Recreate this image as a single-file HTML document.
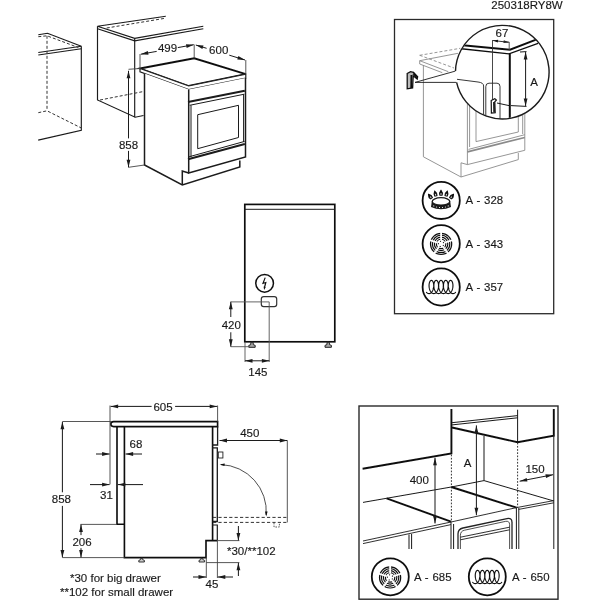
<!DOCTYPE html>
<html><head><meta charset="utf-8"><title>Installation dimensions</title>
<style>html,body{margin:0;padding:0;background:#fff}svg{display:block;font-family:"Liberation Sans",sans-serif}</style>
</head><body>
<svg width="600" height="600" viewBox="0 0 600 600">
<defs><filter id="soft" x="0" y="0" width="600" height="600" filterUnits="userSpaceOnUse"><feGaussianBlur stdDeviation="0.5"/></filter></defs>
<rect width="600" height="600" fill="#fff"/>
<g filter="url(#soft)">
<path d="M38.3,34.7 L47.5,33.3 L81.3,46.3" stroke="#1a1a1a" stroke-width="1.15" fill="none" />
<path d="M38.3,52.5 L81.3,46.3" stroke="#1a1a1a" stroke-width="1.15" fill="none" />
<path d="M38.3,55.0 L81.3,48.7" stroke="#1a1a1a" stroke-width="1.15" fill="none" />
<path d="M81.3,46.3 L81.3,130.4 L38.2,140.1" stroke="#1a1a1a" stroke-width="1.15" fill="none" />
<path d="M38.3,36.7 L47.0,35.8 L78.3,47.5" stroke="#333" stroke-width="1.0" fill="none" stroke-dasharray="3 2" />
<path d="M47.0,35.8 L47.0,110.8" stroke="#333" stroke-width="1.0" fill="none" stroke-dasharray="3 2" />
<path d="M38.3,112.7 L47.0,110.8 L81.3,128.0" stroke="#333" stroke-width="1.0" fill="none" stroke-dasharray="3 2" />
<path d="M165.8,16.3 L97.5,26.3 L134.7,38.3 L203.3,26.3" stroke="#1a1a1a" stroke-width="1.15" fill="none" />
<path d="M97.5,28.7 L134.7,40.8 L203.3,28.7" stroke="#1a1a1a" stroke-width="1.15" fill="none" />
<path d="M97.5,26.3 L97.5,100.0 L135.2,117.2 L143.5,115.5" stroke="#1a1a1a" stroke-width="1.15" fill="none" />
<path d="M134.7,38.3 L134.7,117.2" stroke="#1a1a1a" stroke-width="1.15" fill="none" />
<path d="M106.7,28.0 L165.0,18.3" stroke="#333" stroke-width="1.0" fill="none" stroke-dasharray="3 2" />
<path d="M100.0,100.0 L143.5,91.5" stroke="#333" stroke-width="1.0" fill="none" stroke-dasharray="3 2" />
<path d="M140,68.5 L194.2,58.3 L245.8,74.2 L188.7,86 Z" fill="#fff" stroke="#111" stroke-width="1.8"/>
<path d="M140,68.5 L188.7,86 L245.8,74.2 L245.8,78 L188.7,89.6 L140,71.8Z" fill="#fff" stroke="#222" stroke-width="1.2"/>
<path d="M144.5,73.5 L188.7,89.6 L245.5,78 L245.5,157 L239.8,160.5 L239.8,167 L182.3,185 L144.5,165Z" fill="#fff" stroke="none"/>
<path d="M144.5,73.5 L144.5,165.0 L182.3,185.0 L239.8,167.0 L239.8,160.5" stroke="#1a1a1a" stroke-width="1.5" fill="none" />
<path d="M182.3,185.0 L182.3,171.0 L188.7,173.0" stroke="#1a1a1a" stroke-width="1.5" fill="none" />
<path d="M188.7,89.6 L188.7,173.0 L245.5,157.0 L245.5,78.0" stroke="#1a1a1a" stroke-width="1.5" fill="none" />
<path d="M188.0,102.0 L244.8,90.7" stroke="#1a1a1a" stroke-width="2" fill="none" />
<path d="M189.7,105.3 L244.3,94.2" stroke="#1a1a1a" stroke-width="1.0" fill="none" />
<path d="M191.0,105.3 L191.0,157.0" stroke="#1a1a1a" stroke-width="1.0" fill="none" />
<path d="M243.6,94.2 L243.6,142.0" stroke="#1a1a1a" stroke-width="1.0" fill="none" />
<path d="M197.7,114.7 L238.5,105.3 L238.5,137.5 L197.7,148.7 L197.7,114.7" stroke="#1a1a1a" stroke-width="1" fill="none" />
<path d="M189.0,156.8 L244.6,141.4" stroke="#1a1a1a" stroke-width="1.0" fill="none" />
<path d="M188.0,159.3 L244.8,144.0" stroke="#1a1a1a" stroke-width="2" fill="none" />
<path d="M140.0,54.0 L140.0,68.5" stroke="#444" stroke-width="0.9" fill="none" />
<path d="M194.2,44.5 L194.2,58.3" stroke="#444" stroke-width="0.9" fill="none" />
<path d="M245.8,60.0 L245.8,74.2" stroke="#444" stroke-width="0.9" fill="none" />
<path d="M140.8,54.2 L156.7,51.4" stroke="#1a1a1a" stroke-width="1.0" fill="none" />
<path d="M177.8,47.6 L193.7,44.7" stroke="#1a1a1a" stroke-width="1.0" fill="none" />
<path d="M140.8,54.2 L147.8,51.0 L148.5,54.7Z" fill="#1a1a1a"/>
<path d="M193.7,44.7 L186.7,47.9 L186.0,44.2Z" fill="#1a1a1a"/>
<text x="167.5" y="51.5" font-size="11.5" text-anchor="middle" fill="#1a1a1a" stroke="#1a1a1a" stroke-width="0.15">499</text>
<path d="M195.8,45.0 L206.6,48.3" stroke="#1a1a1a" stroke-width="1.0" fill="none" />
<path d="M229.3,55.2 L245.0,60.0" stroke="#1a1a1a" stroke-width="1.0" fill="none" />
<path d="M195.8,45.0 L203.5,45.4 L202.4,49.0Z" fill="#1a1a1a"/>
<path d="M245.0,60.0 L237.3,59.6 L238.4,56.0Z" fill="#1a1a1a"/>
<text x="218.7" y="53.7" font-size="11.5" text-anchor="middle" fill="#1a1a1a" stroke="#1a1a1a" stroke-width="0.15">600</text>
<path d="M128.5,69.3 L140.0,68.5" stroke="#444" stroke-width="0.9" fill="none" />
<path d="M128.5,167.3 L144.5,165.0" stroke="#444" stroke-width="0.9" fill="none" />
<path d="M128.5,70.8 L128.5,138.4" stroke="#1a1a1a" stroke-width="1.0" fill="none" />
<path d="M128.5,150.9 L128.5,167.3" stroke="#1a1a1a" stroke-width="1.0" fill="none" />
<path d="M128.5,70.8 L130.4,78.3 L126.6,78.3Z" fill="#1a1a1a"/>
<path d="M128.5,167.3 L126.6,159.8 L130.4,159.8Z" fill="#1a1a1a"/>
<text x="128.5" y="148.5" font-size="11.5" text-anchor="middle" fill="#1a1a1a" stroke="#1a1a1a" stroke-width="0.15">858</text>
<text x="527.0" y="8.6" font-size="11.5" text-anchor="middle" fill="#1a1a1a" stroke="#1a1a1a" stroke-width="0.15">250318RY8W</text>
<rect x="394.5" y="19.5" width="159.2" height="294.2" fill="none" stroke="#2a2a2a" stroke-width="1.3"/>
<path d="M419.7,60.7 L458.0,53.3" stroke="#8a8a8a" stroke-width="0.9" fill="none" />
<path d="M419.7,55.3 L460.3,48.3" stroke="#8a8a8a" stroke-width="0.9" fill="none" stroke-dasharray="3 2" />
<path d="M419.7,55.3 L454.0,68.0" stroke="#8a8a8a" stroke-width="0.9" fill="none" stroke-dasharray="3 2" />
<path d="M419.7,60.7 L448.3,71.7" stroke="#8a8a8a" stroke-width="0.9" fill="none" />
<path d="M419.7,60.7 L419.7,64.0 L442.3,72.7" stroke="#8a8a8a" stroke-width="0.9" fill="none" />
<path d="M423.4,65.0 L423.4,156.8 L461.0,177.0 L518.3,159.6 L518.3,153.0" stroke="#8a8a8a" stroke-width="0.9" fill="none" />
<path d="M461.0,177.0 L461.0,162.8 L467.4,164.6" stroke="#8a8a8a" stroke-width="0.9" fill="none" />
<path d="M467.4,100.0 L467.4,164.6 L524.8,150.3 L524.8,100.0" stroke="#8a8a8a" stroke-width="0.9" fill="none" />
<path d="M469.6,100.0 L469.6,147.0" stroke="#8a8a8a" stroke-width="0.9" fill="none" />
<path d="M476.0,100.0 L476.0,141.6 L518.3,132.0 L518.3,100.0" stroke="#8a8a8a" stroke-width="0.9" fill="none" />
<path d="M522.7,100.0 L522.7,134.0" stroke="#8a8a8a" stroke-width="0.9" fill="none" />
<path d="M468.5,149.4 L524.8,134.7" stroke="#8a8a8a" stroke-width="0.9" fill="none" />
<path d="M467.4,151.8 L524.8,137.5" stroke="#8a8a8a" stroke-width="1.8" fill="none" />
<path d="M407.2,73.5 L410.5,71.6 L413.5,72.4 L417.6,76.6 L417.2,79 L413.2,75.8 L412.6,88 L407.2,88.8Z" fill="#bbb" stroke="#111" stroke-width="1.3"/>
<path d="M411.4,75.0 L411.2,88.0" stroke="#111" stroke-width="1.8" fill="none" />
<path d="M413.4,73.4 L417.0,77.6" stroke="#111" stroke-width="1.8" fill="none" />
<path d="M455.7,71.0 L415.0,82.4 L456.3,82.4" stroke="#1a1a1a" stroke-width="0.9" fill="none" />
<circle cx="502.3" cy="72.2" r="46.8" fill="#fff" stroke="none"/>
<path d="M455.5,71.0 A46.8,46.8 0 1 1 456.6,82.3" fill="none" stroke="#1a1a1a" stroke-width="1.4"/>
<clipPath id="cc"><circle cx="502.3" cy="72.2" r="46.4"/></clipPath><g clip-path="url(#cc)">
<path d="M460.0,44.9 L510.0,49.7 L538.0,38.9" stroke="#111" stroke-width="2.0" fill="none" />
<path d="M459.0,48.5 L509.0,53.8 L538.0,43.3" stroke="#111" stroke-width="1.3" fill="none" />
<path d="M509.8,53.0 L509.8,120.0" stroke="#111" stroke-width="2.0" fill="none" />
<path d="M492.5,40.0 L492.5,100.0" stroke="#333" stroke-width="0.9" fill="none" />
<path d="M509.2,42.0 L509.2,50.0" stroke="#444" stroke-width="0.9" fill="none" />
<path d="M520.0,52.0 L526.5,51.6" stroke="#1a1a1a" stroke-width="1.0" fill="none" />
<path d="M511.0,105.6 L526.5,106.4" stroke="#1a1a1a" stroke-width="1.0" fill="none" />
<path d="M525.6,52.0 L525.6,106.0" stroke="#1a1a1a" stroke-width="1.0" fill="none" />
<path d="M525.6,52.0 L527.5,59.5 L523.7,59.5Z" fill="#1a1a1a"/>
<path d="M525.6,106.0 L523.7,98.5 L527.5,98.5Z" fill="#1a1a1a"/>
<path d="M457,79.3 L478,82 Q483.6,82.6 483.6,86 L483.6,125" fill="none" stroke="#222" stroke-width="0.9"/>
<path d="M485.8,125 L485.8,86.5 Q485.8,83.2 489,83.2 L497,83.2 Q500,83.2 500,86.5 L500,125" fill="none" stroke="#222" stroke-width="0.9"/>
<path d="M497.0,103.0 L509.0,105.6" stroke="#1a1a1a" stroke-width="1.0" fill="none" />
<path d="M491.2,100.5 L494.8,98.6 L496.4,100 L494.8,101.8 L495.2,112.6 L491.4,113Z" fill="#fff" stroke="#111" stroke-width="1.2"/>
<path d="M493.9,102.0 L494.1,112.0" stroke="#111" stroke-width="1.6" fill="none" />
</g>
<path d="M493.0,40.5 L498.1,39.7 L497.8,42.5Z" fill="#111"/>
<path d="M508.6,42.3 L503.5,43.1 L503.8,40.3Z" fill="#111"/>
<path d="M493.0,40.5 L508.6,42.3" stroke="#1a1a1a" stroke-width="0.9" fill="none" />
<path d="M504.0,42.1 L509.2,42.1" stroke="#444" stroke-width="0.9" fill="none" />
<text x="502.0" y="37.2" font-size="11.5" text-anchor="middle" fill="#1a1a1a" stroke="#1a1a1a" stroke-width="0.15">67</text>
<text x="534.0" y="85.6" font-size="11.5" text-anchor="middle" fill="#1a1a1a" stroke="#1a1a1a" stroke-width="0.15">A</text>
<circle cx="441.2" cy="200.4" r="18.6" fill="#fff" stroke="#111" stroke-width="1.8"/>
<text x="465.6" y="204.3" font-size="11.4" text-anchor="start" fill="#1a1a1a" stroke="#1a1a1a" stroke-width="0.15" word-spacing="0.7">A - 328</text>
<circle cx="441.2" cy="243.7" r="18.6" fill="#fff" stroke="#111" stroke-width="1.8"/>
<text x="465.6" y="247.6" font-size="11.4" text-anchor="start" fill="#1a1a1a" stroke="#1a1a1a" stroke-width="0.15" word-spacing="0.7">A - 343</text>
<circle cx="441.2" cy="287" r="18.6" fill="#fff" stroke="#111" stroke-width="1.8"/>
<text x="465.6" y="290.9" font-size="11.4" text-anchor="start" fill="#1a1a1a" stroke="#1a1a1a" stroke-width="0.15" word-spacing="0.7">A - 357</text>
<g transform="translate(441,200.3) scale(1.0)"><path d="M-9.2,1.2 L-10,6.6 Q0,11.5 10,6.6 L9.2,1.2 Z" fill="#1a1a1a"/><ellipse cx="0" cy="1.1" rx="8.8" ry="3.7" fill="#fff" stroke="#1a1a1a" stroke-width="1.3"/><circle cx="-7.2" cy="5.6" r="0.55" fill="#fff"/><circle cx="-4.4" cy="6.7" r="0.55" fill="#fff"/><circle cx="-1.5" cy="7.2" r="0.55" fill="#fff"/><circle cx="1.5" cy="7.2" r="0.55" fill="#fff"/><circle cx="4.4" cy="6.7" r="0.55" fill="#fff"/><circle cx="7.2" cy="5.6" r="0.55" fill="#fff"/><path transform="translate(-11,-4) rotate(-38)" d="M0,-2.4 C1.6,-0.4 1.7,1 1.1,2.4 L-1.1,2.4 C-1.7,1 -1.6,-0.4 0,-2.4Z" fill="#111" stroke="#111" stroke-width="1.1"/><ellipse transform="translate(-11,-4) rotate(-38)" cx="0" cy="1.2" rx="0.55" ry="1" fill="#ddd"/><path transform="translate(-5.7,-6.8) rotate(-15)" d="M0,-2.4 C1.6,-0.4 1.7,1 1.1,2.4 L-1.1,2.4 C-1.7,1 -1.6,-0.4 0,-2.4Z" fill="#111" stroke="#111" stroke-width="1.1"/><ellipse transform="translate(-5.7,-6.8) rotate(-15)" cx="0" cy="1.2" rx="0.55" ry="1" fill="#ddd"/><path transform="translate(0,-7.6) rotate(0)" d="M0,-2.4 C1.6,-0.4 1.7,1 1.1,2.4 L-1.1,2.4 C-1.7,1 -1.6,-0.4 0,-2.4Z" fill="#111" stroke="#111" stroke-width="1.1"/><ellipse transform="translate(0,-7.6) rotate(0)" cx="0" cy="1.2" rx="0.55" ry="1" fill="#ddd"/><path transform="translate(5.7,-6.8) rotate(15)" d="M0,-2.4 C1.6,-0.4 1.7,1 1.1,2.4 L-1.1,2.4 C-1.7,1 -1.6,-0.4 0,-2.4Z" fill="#111" stroke="#111" stroke-width="1.1"/><ellipse transform="translate(5.7,-6.8) rotate(15)" cx="0" cy="1.2" rx="0.55" ry="1" fill="#ddd"/><path transform="translate(11,-4) rotate(38)" d="M0,-2.4 C1.6,-0.4 1.7,1 1.1,2.4 L-1.1,2.4 C-1.7,1 -1.6,-0.4 0,-2.4Z" fill="#111" stroke="#111" stroke-width="1.1"/><ellipse transform="translate(11,-4) rotate(38)" cx="0" cy="1.2" rx="0.55" ry="1" fill="#ddd"/></g>
<g transform="translate(441.1,243.9) scale(1.0)"><circle r="4.7" fill="none" stroke="#111" stroke-width="1.2"/><circle r="6.7" fill="none" stroke="#111" stroke-width="1.2"/><circle r="8.7" fill="none" stroke="#111" stroke-width="1.2"/><circle r="10.6" fill="none" stroke="#111" stroke-width="1.2"/><circle r="2.7" fill="none" stroke="#1a1a1a" stroke-width="1.1" stroke-dasharray="1.1 2.29" stroke-dashoffset="-1.1"/><line x1="0.00" y1="-3.80" x2="0.00" y2="-12.00" stroke="#fff" stroke-width="1.8"/><line x1="3.61" y1="-1.17" x2="11.41" y2="-3.71" stroke="#fff" stroke-width="1.8"/><line x1="2.23" y1="3.07" x2="7.05" y2="9.71" stroke="#fff" stroke-width="1.8"/><line x1="-2.23" y1="3.07" x2="-7.05" y2="9.71" stroke="#fff" stroke-width="1.8"/><line x1="-3.61" y1="-1.17" x2="-11.41" y2="-3.71" stroke="#fff" stroke-width="1.8"/></g>
<g transform="translate(441,287) scale(1.0)"><path d="M-14.50,5.37 L-14.20,5.67 L-13.89,5.92 L-13.57,6.14 L-13.24,6.32 L-12.90,6.45 L-12.56,6.54 L-12.22,6.59 L-11.88,6.60 L-11.53,6.56 L-11.19,6.47 L-10.86,6.35 L-10.53,6.18 L-10.21,5.97 L-9.89,5.72 L-9.59,5.43 L-9.31,5.11 L-9.03,4.75 L-8.78,4.36 L-8.54,3.94 L-8.32,3.49 L-8.11,3.03 L-7.93,2.54 L-7.77,2.03 L-7.63,1.51 L-7.52,0.98 L-7.43,0.45 L-7.35,-0.09 L-7.31,-0.63 L-7.28,-1.16 L-7.28,-1.69 L-7.30,-2.20 L-7.34,-2.70 L-7.41,-3.18 L-7.49,-3.64 L-7.59,-4.08 L-7.71,-4.49 L-7.85,-4.87 L-8.00,-5.22 L-8.17,-5.53 L-8.35,-5.80 L-8.54,-6.04 L-8.74,-6.24 L-8.95,-6.39 L-9.16,-6.51 L-9.38,-6.57 L-9.60,-6.60 L-9.82,-6.58 L-10.03,-6.52 L-10.25,-6.41 L-10.45,-6.26 L-10.66,-6.07 L-10.85,-5.84 L-11.03,-5.57 L-11.20,-5.27 L-11.35,-4.92 L-11.49,-4.55 L-11.62,-4.14 L-11.72,-3.71 L-11.81,-3.25 L-11.87,-2.78 L-11.92,-2.28 L-11.94,-1.77 L-11.94,-1.24 L-11.92,-0.71 L-11.88,-0.17 L-11.81,0.37 L-11.72,0.90 L-11.61,1.43 L-11.48,1.96 L-11.32,2.46 L-11.14,2.95 L-10.94,3.43 L-10.72,3.87 L-10.49,4.30 L-10.23,4.69 L-9.96,5.05 L-9.68,5.38 L-9.38,5.68 L-9.07,5.93 L-8.75,6.15 L-8.42,6.32 L-8.08,6.46 L-7.74,6.55 L-7.40,6.59 L-7.06,6.60 L-6.71,6.55 L-6.37,6.47 L-6.04,6.34 L-5.71,6.17 L-5.39,5.96 L-5.08,5.71 L-4.78,5.42 L-4.49,5.09 L-4.22,4.73 L-3.96,4.34 L-3.72,3.92 L-3.50,3.48 L-3.30,3.01 L-3.12,2.52 L-2.96,2.01 L-2.82,1.49 L-2.71,0.96 L-2.62,0.43 L-2.55,-0.11 L-2.50,-0.65 L-2.48,-1.18 L-2.48,-1.71 L-2.50,-2.22 L-2.54,-2.72 L-2.60,-3.20 L-2.69,-3.66 L-2.79,-4.10 L-2.91,-4.51 L-3.05,-4.88 L-3.20,-5.23 L-3.37,-5.54 L-3.55,-5.81 L-3.74,-6.05 L-3.94,-6.24 L-4.15,-6.40 L-4.36,-6.51 L-4.58,-6.58 L-4.80,-6.60 L-5.02,-6.58 L-5.23,-6.52 L-5.45,-6.41 L-5.66,-6.26 L-5.86,-6.07 L-6.05,-5.83 L-6.23,-5.56 L-6.40,-5.25 L-6.55,-4.91 L-6.69,-4.53 L-6.81,-4.13 L-6.92,-3.69 L-7.00,-3.24 L-7.07,-2.76 L-7.11,-2.26 L-7.14,-1.75 L-7.14,-1.22 L-7.12,-0.69 L-7.07,-0.15 L-7.00,0.39 L-6.91,0.92 L-6.80,1.45 L-6.66,1.97 L-6.51,2.48 L-6.33,2.97 L-6.13,3.44 L-5.91,3.89 L-5.67,4.31 L-5.42,4.71 L-5.15,5.07 L-4.86,5.40 L-4.56,5.69 L-4.25,5.94 L-3.93,6.16 L-3.60,6.33 L-3.27,6.46 L-2.92,6.55 L-2.58,6.59 L-2.24,6.59 L-1.89,6.55 L-1.55,6.47 L-1.22,6.34 L-0.89,6.16 L-0.57,5.95 L-0.26,5.70 L0.04,5.41 L0.33,5.08 L0.60,4.72 L0.86,4.33 L1.09,3.91 L1.31,3.46 L1.51,2.99 L1.69,2.50 L1.85,1.99 L1.99,1.47 L2.10,0.94 L2.19,0.41 L2.26,-0.13 L2.31,-0.67 L2.33,-1.20 L2.33,-1.73 L2.31,-2.24 L2.26,-2.74 L2.20,-3.22 L2.12,-3.68 L2.01,-4.11 L1.89,-4.52 L1.75,-4.90 L1.60,-5.24 L1.43,-5.55 L1.25,-5.82 L1.06,-6.06 L0.86,-6.25 L0.65,-6.40 L0.44,-6.51 L0.22,-6.58 L0.00,-6.60 L-0.22,-6.58 L-0.44,-6.51 L-0.65,-6.40 L-0.86,-6.25 L-1.06,-6.06 L-1.25,-5.82 L-1.43,-5.55 L-1.60,-5.24 L-1.75,-4.90 L-1.89,-4.52 L-2.01,-4.11 L-2.12,-3.68 L-2.20,-3.22 L-2.26,-2.74 L-2.31,-2.24 L-2.33,-1.73 L-2.33,-1.20 L-2.31,-0.67 L-2.26,-0.13 L-2.19,0.41 L-2.10,0.94 L-1.99,1.47 L-1.85,1.99 L-1.69,2.50 L-1.51,2.99 L-1.31,3.46 L-1.09,3.91 L-0.86,4.33 L-0.60,4.72 L-0.33,5.08 L-0.04,5.41 L0.26,5.70 L0.57,5.95 L0.89,6.16 L1.22,6.34 L1.55,6.47 L1.89,6.55 L2.24,6.59 L2.58,6.59 L2.92,6.55 L3.27,6.46 L3.60,6.33 L3.93,6.16 L4.25,5.94 L4.56,5.69 L4.86,5.40 L5.15,5.07 L5.42,4.71 L5.67,4.31 L5.91,3.89 L6.13,3.44 L6.33,2.97 L6.51,2.48 L6.66,1.97 L6.80,1.45 L6.91,0.92 L7.00,0.39 L7.07,-0.15 L7.12,-0.69 L7.14,-1.22 L7.14,-1.75 L7.11,-2.26 L7.07,-2.76 L7.00,-3.24 L6.92,-3.69 L6.81,-4.13 L6.69,-4.53 L6.55,-4.91 L6.40,-5.25 L6.23,-5.56 L6.05,-5.83 L5.86,-6.07 L5.66,-6.26 L5.45,-6.41 L5.23,-6.52 L5.02,-6.58 L4.80,-6.60 L4.58,-6.58 L4.36,-6.51 L4.15,-6.40 L3.94,-6.24 L3.74,-6.05 L3.55,-5.81 L3.37,-5.54 L3.20,-5.23 L3.05,-4.88 L2.91,-4.51 L2.79,-4.10 L2.69,-3.66 L2.60,-3.20 L2.54,-2.72 L2.50,-2.22 L2.48,-1.71 L2.48,-1.18 L2.50,-0.65 L2.55,-0.11 L2.62,0.43 L2.71,0.96 L2.82,1.49 L2.96,2.01 L3.12,2.52 L3.30,3.01 L3.50,3.48 L3.72,3.92 L3.96,4.34 L4.22,4.73 L4.49,5.09 L4.78,5.42 L5.08,5.71 L5.39,5.96 L5.71,6.17 L6.04,6.34 L6.37,6.47 L6.71,6.55 L7.06,6.60 L7.40,6.59 L7.74,6.55 L8.08,6.46 L8.42,6.32 L8.75,6.15 L9.07,5.93 L9.38,5.68 L9.68,5.38 L9.96,5.05 L10.23,4.69 L10.49,4.30 L10.72,3.87 L10.94,3.43 L11.14,2.95 L11.32,2.46 L11.48,1.96 L11.61,1.43 L11.72,0.90 L11.81,0.37 L11.88,-0.17 L11.92,-0.71 L11.94,-1.24 L11.94,-1.77 L11.92,-2.28 L11.87,-2.78 L11.81,-3.25 L11.72,-3.71 L11.62,-4.14 L11.49,-4.55 L11.35,-4.92 L11.20,-5.27 L11.03,-5.57 L10.85,-5.84 L10.66,-6.07 L10.45,-6.26 L10.25,-6.41 L10.03,-6.52 L9.82,-6.58 L9.60,-6.60 L9.38,-6.57 L9.16,-6.51 L8.95,-6.39 L8.74,-6.24 L8.54,-6.04 L8.35,-5.80 L8.17,-5.53 L8.00,-5.22 L7.85,-4.87 L7.71,-4.49 L7.59,-4.08 L7.49,-3.64 L7.41,-3.18 L7.34,-2.70 L7.30,-2.20 L7.28,-1.69 L7.28,-1.16 L7.31,-0.63 L7.35,-0.09 L7.43,0.45 L7.52,0.98 L7.63,1.51 L7.77,2.03 L7.93,2.54 L8.11,3.03 L8.32,3.49 L8.54,3.94 L8.78,4.36 L9.03,4.75 L9.31,5.11 L9.59,5.43 L9.89,5.72 L10.21,5.97 L10.53,6.18 L10.86,6.35 L11.19,6.47 L11.53,6.56 L11.88,6.60 L12.22,6.59 L12.56,6.54 L12.90,6.45 L13.24,6.32 L13.57,6.14 L13.89,5.92 L14.20,5.67 L14.50,5.37" fill="none" stroke="#111" stroke-width="1.15" stroke-linejoin="round" stroke-linecap="round"/></g>
<rect x="244.8" y="204.4" width="90" height="137.4" fill="#fff" stroke="#111" stroke-width="1.7"/>
<path d="M244.8,209.3 L334.8,209.3" stroke="#1a1a1a" stroke-width="1.0" fill="none" />
<circle cx="264.6" cy="283.3" r="8.85" fill="none" stroke="#111" stroke-width="1.5"/>
<path d="M265.2,277.6 L263,283.3 L265.8,282.5 L264.5,287.5" fill="none" stroke="#111" stroke-width="1.2"/>
<path d="M264.1,290 L263.6,286.6 L265.7,287.2Z" fill="#111"/>
<rect x="261.3" y="296.6" width="15.4" height="10" rx="2.4" fill="none" stroke="#333" stroke-width="1.2"/>
<path d="M250.8,342.3 L253.2,342.3 L253.2,344.6 L255.2,345.4 L255.2,347.3 L248.8,347.3 L248.8,345.4 L250.8,344.6Z" fill="#aaa" stroke="#222" stroke-width="1"/>
<path d="M327.0,342.3 L329.4,342.3 L329.4,344.6 L331.4,345.4 L331.4,347.3 L325.0,347.3 L325.0,345.4 L327.0,344.6Z" fill="#aaa" stroke="#222" stroke-width="1"/>
<path d="M230.8,301.9 L269.2,301.9 L269.2,362.0" stroke="#555" stroke-width="0.9" fill="none" />
<path d="M230.8,346.7 L249.0,346.7" stroke="#555" stroke-width="0.9" fill="none" />
<path d="M245.0,342.0 L245.0,362.0" stroke="#555" stroke-width="0.9" fill="none" />
<path d="M230.8,301.7 L230.8,317.0" stroke="#1a1a1a" stroke-width="1.0" fill="none" />
<path d="M230.8,332.3 L230.8,346.7" stroke="#1a1a1a" stroke-width="1.0" fill="none" />
<path d="M230.8,301.7 L232.7,309.2 L228.9,309.2Z" fill="#1a1a1a"/>
<path d="M230.8,346.7 L228.9,339.2 L232.7,339.2Z" fill="#1a1a1a"/>
<text x="231.3" y="328.6" font-size="11.5" text-anchor="middle" fill="#1a1a1a" stroke="#1a1a1a" stroke-width="0.15">420</text>
<path d="M245.0,360.8 L269.4,360.8" stroke="#1a1a1a" stroke-width="1.0" fill="none" />
<path d="M245.0,360.8 L252.5,358.9 L252.5,362.7Z" fill="#1a1a1a"/>
<path d="M269.4,360.8 L261.9,362.7 L261.9,358.9Z" fill="#1a1a1a"/>
<text x="257.9" y="375.6" font-size="11.5" text-anchor="middle" fill="#1a1a1a" stroke="#1a1a1a" stroke-width="0.15">145</text>
<path d="M124.4,426.6 L124.4,557.6 L206.0,557.6 L206.0,540.6 L217.4,540.6" stroke="#111" stroke-width="1.65" fill="none" />
<path d="M212.6,426.6 L212.6,540.6" stroke="#111" stroke-width="1.65" fill="none" />
<path d="M113.6,421.6 L217.6,421.6 L217.6,426.6 L113.6,426.6 Q110.8,426.6 110.8,424.1 Q110.8,421.6 113.6,421.6Z" fill="#fff" stroke="#111" stroke-width="1.65"/>
<path d="M117.0,426.6 L117.0,524.2 L124.4,524.2" stroke="#111" stroke-width="1.65" fill="none" />
<path d="M217.6,426.6 L217.6,445.0 L212.6,445.0" stroke="#1a1a1a" stroke-width="1.3" fill="none" />
<path d="M212.6,447.8 L217.3,447.8 L217.3,521.5 L212.6,521.5" stroke="#1a1a1a" stroke-width="1.3" fill="none" />
<path d="M212.6,525.0 L217.3,525.0 L217.3,540.6" stroke="#1a1a1a" stroke-width="1.2" fill="none" />
<rect x="218.3" y="452" width="4.6" height="6" fill="#fff" stroke="#222" stroke-width="0.9"/>
<path d="M140.6,558.4 L142.6,558.4 L142.6,559.6 L144.4,560.4 L144.4,562 L138.79999999999998,562 L138.79999999999998,560.4 L140.6,559.6Z" fill="#ccc" stroke="#222" stroke-width="0.9"/>
<path d="M200.8,558.4 L202.8,558.4 L202.8,559.6 L204.60000000000002,560.4 L204.60000000000002,562 L199.0,562 L199.0,560.4 L200.8,559.6Z" fill="#ccc" stroke="#222" stroke-width="0.9"/>
<path d="M213.0,517.4 L287.4,517.4" stroke="#333" stroke-width="1.0" fill="none" stroke-dasharray="3.2 2.2" />
<path d="M213.0,522.4 L287.4,522.4" stroke="#333" stroke-width="1.0" fill="none" stroke-dasharray="3.2 2.2" />
<path d="M274.0,522.8 L274.0,527.0 L279.4,527.0 L279.4,522.8" stroke="#333" stroke-width="0.8" fill="none" stroke-dasharray="1.6 1.2" />
<path d="M287.3,440.5 L287.3,522.4" stroke="#444" stroke-width="0.9" fill="none" />
<path d="M219.5,440.5 L287.3,440.5" stroke="#1a1a1a" stroke-width="1.0" fill="none" />
<path d="M219.5,440.5 L227.0,438.6 L227.0,442.4Z" fill="#1a1a1a"/>
<path d="M287.3,440.5 L279.8,442.4 L279.8,438.6Z" fill="#1a1a1a"/>
<text x="249.8" y="437.0" font-size="11.5" text-anchor="middle" fill="#1a1a1a" stroke="#1a1a1a" stroke-width="0.15">450</text>
<path d="M221,464.6 A47,47 0 0 1 266.2,515" fill="none" stroke="#222" stroke-width="0.8"/>
<path d="M219.6,464.5 L224.7,463.5 L224.5,466.1Z" fill="#111"/>
<path d="M266.2,516.6 L265.0,511.6 L267.6,511.6Z" fill="#111"/>
<path d="M110.0,405.5 L110.0,484.4" stroke="#444" stroke-width="0.9" fill="none" />
<path d="M217.6,405.5 L217.6,421.6" stroke="#444" stroke-width="0.9" fill="none" />
<path d="M110.6,406.4 L151.6,406.4" stroke="#1a1a1a" stroke-width="1.0" fill="none" />
<path d="M175.1,406.4 L217.2,406.4" stroke="#1a1a1a" stroke-width="1.0" fill="none" />
<path d="M110.6,406.4 L118.1,404.5 L118.1,408.3Z" fill="#1a1a1a"/>
<path d="M217.2,406.4 L209.7,408.3 L209.7,404.5Z" fill="#1a1a1a"/>
<text x="163.0" y="410.6" font-size="11.5" text-anchor="middle" fill="#1a1a1a" stroke="#1a1a1a" stroke-width="0.15">605</text>
<path d="M62.4,421.5 L111.0,421.5" stroke="#444" stroke-width="0.9" fill="none" />
<path d="M62.4,557.6 L124.4,557.6" stroke="#444" stroke-width="0.9" fill="none" />
<path d="M62.4,421.8 L62.4,492.3" stroke="#1a1a1a" stroke-width="1.0" fill="none" />
<path d="M62.4,505.9 L62.4,557.4" stroke="#1a1a1a" stroke-width="1.0" fill="none" />
<path d="M62.4,421.8 L64.3,429.3 L60.5,429.3Z" fill="#1a1a1a"/>
<path d="M62.4,557.4 L60.5,549.9 L64.3,549.9Z" fill="#1a1a1a"/>
<text x="61.4" y="503.0" font-size="11.5" text-anchor="middle" fill="#1a1a1a" stroke="#1a1a1a" stroke-width="0.15">858</text>
<path d="M96.0,454.0 L109.6,454.0" stroke="#1a1a1a" stroke-width="1.0" fill="none" />
<path d="M109.6,454.0 L102.1,455.9 L102.1,452.1Z" fill="#1a1a1a"/>
<path d="M142.0,454.0 L125.6,454.0" stroke="#1a1a1a" stroke-width="1.0" fill="none" />
<path d="M125.6,454.0 L133.1,452.1 L133.1,455.9Z" fill="#1a1a1a"/>
<text x="136.0" y="448.0" font-size="11.5" text-anchor="middle" fill="#1a1a1a" stroke="#1a1a1a" stroke-width="0.15">68</text>
<path d="M90.0,484.6 L109.6,484.6" stroke="#1a1a1a" stroke-width="1.0" fill="none" />
<path d="M109.6,484.6 L102.1,486.5 L102.1,482.7Z" fill="#1a1a1a"/>
<path d="M143.0,484.6 L117.8,484.6" stroke="#1a1a1a" stroke-width="1.0" fill="none" />
<path d="M117.8,484.6 L125.3,482.7 L125.3,486.5Z" fill="#1a1a1a"/>
<text x="106.4" y="499.0" font-size="11.5" text-anchor="middle" fill="#1a1a1a" stroke="#1a1a1a" stroke-width="0.15">31</text>
<path d="M80.4,524.4 L117.0,524.4" stroke="#444" stroke-width="0.9" fill="none" />
<path d="M81.0,524.6 L81.0,535.1" stroke="#1a1a1a" stroke-width="1.0" fill="none" />
<path d="M81.0,548.2 L81.0,557.4" stroke="#1a1a1a" stroke-width="1.0" fill="none" />
<path d="M81.0,524.6 L82.9,532.1 L79.1,532.1Z" fill="#1a1a1a"/>
<path d="M81.0,557.4 L79.1,549.9 L82.9,549.9Z" fill="#1a1a1a"/>
<text x="82.0" y="546.4" font-size="11.5" text-anchor="middle" fill="#1a1a1a" stroke="#1a1a1a" stroke-width="0.15">206</text>
<path d="M217.4,540.6 L217.4,578.0" stroke="#444" stroke-width="0.9" fill="none" />
<path d="M206.3,557.6 L206.3,578.0" stroke="#444" stroke-width="0.9" fill="none" />
<path d="M193.0,577.0 L206.0,577.0" stroke="#1a1a1a" stroke-width="1.0" fill="none" />
<path d="M206.0,577.0 L198.5,578.9 L198.5,575.1Z" fill="#1a1a1a"/>
<path d="M233.0,577.0 L217.8,577.0" stroke="#1a1a1a" stroke-width="1.0" fill="none" />
<path d="M217.8,577.0 L225.3,575.1 L225.3,578.9Z" fill="#1a1a1a"/>
<text x="212.0" y="588.4" font-size="11.5" text-anchor="middle" fill="#1a1a1a" stroke="#1a1a1a" stroke-width="0.15">45</text>
<path d="M217.4,540.6 L239.4,540.6" stroke="#444" stroke-width="0.9" fill="none" />
<path d="M206.3,562.6 L239.4,562.6" stroke="#444" stroke-width="0.9" fill="none" />
<path d="M238.4,526.0 L238.4,540.4" stroke="#1a1a1a" stroke-width="1.0" fill="none" />
<path d="M238.4,540.4 L236.5,532.9 L240.3,532.9Z" fill="#1a1a1a"/>
<path d="M238.4,576.0 L238.4,562.8" stroke="#1a1a1a" stroke-width="1.0" fill="none" />
<path d="M238.4,562.8 L240.3,570.3 L236.5,570.3Z" fill="#1a1a1a"/>
<text x="227.0" y="555.0" font-size="11.5" text-anchor="start" fill="#1a1a1a" stroke="#1a1a1a" stroke-width="0.15">*30/**102</text>
<text x="70.0" y="582.0" font-size="11.5" text-anchor="start" fill="#1a1a1a" stroke="#1a1a1a" stroke-width="0.15">*30 for big drawer</text>
<text x="60.0" y="596.0" font-size="11.5" text-anchor="start" fill="#1a1a1a" stroke="#1a1a1a" stroke-width="0.15">**102 for small drawer</text>
<rect x="359" y="406" width="199" height="193.2" fill="none" stroke="#2a2a2a" stroke-width="1.4"/>
<path d="M362.6,468.7 L451.4,453.5 L451.4,409.0" stroke="#111" stroke-width="1.9" fill="none" />
<path d="M452.0,422.7 L517.6,415.6" stroke="#1a1a1a" stroke-width="1.0" fill="none" />
<path d="M452.0,424.9 L517.6,417.8" stroke="#1a1a1a" stroke-width="1.0" fill="none" />
<path d="M517.6,409.7 L517.6,442.2" stroke="#1a1a1a" stroke-width="1.0" fill="none" />
<path d="M452.0,427.5 L517.6,442.2 L553.8,435.7 L553.8,409.0" stroke="#111" stroke-width="1.9" fill="none" />
<path d="M484.0,436.0 L484.0,480.6" stroke="#1a1a1a" stroke-width="1.0" fill="none" />
<path d="M553.8,435.7 L553.8,549.0" stroke="#1a1a1a" stroke-width="1.0" fill="none" />
<path d="M451.4,454.6 L451.4,522.0" stroke="#333" stroke-width="1.0" fill="none" stroke-dasharray="1.7 1.5" />
<path d="M517.6,442.7 L517.6,507.6" stroke="#333" stroke-width="1.0" fill="none" stroke-dasharray="1.7 1.5" />
<path d="M363.0,502.4 L451.3,487.0 L484.0,480.6 L553.8,501.0" stroke="#1a1a1a" stroke-width="1.0" fill="none" />
<path d="M386.6,498.4 L451.0,521.6" stroke="#111" stroke-width="1.9" fill="none" />
<path d="M451.3,487.0 L516.6,507.6" stroke="#111" stroke-width="1.9" fill="none" />
<path d="M363.0,541.0 L451.0,522.0 L516.6,507.6 L553.8,500.6" stroke="#1a1a1a" stroke-width="0.9" fill="none" />
<path d="M363.0,543.6 L451.0,524.6" stroke="#1a1a1a" stroke-width="0.9" fill="none" />
<path d="M518.6,509.4 L553.8,502.8" stroke="#1a1a1a" stroke-width="0.9" fill="none" />
<path d="M409.0,534.4 L409.0,549.0" stroke="#1a1a1a" stroke-width="1.0" fill="none" />
<path d="M411.6,534.0 L411.6,549.0" stroke="#1a1a1a" stroke-width="1.0" fill="none" />
<path d="M451.0,522.0 L451.0,549.0" stroke="#1a1a1a" stroke-width="1.0" fill="none" />
<path d="M453.6,524.0 L453.6,549.0" stroke="#1a1a1a" stroke-width="1.0" fill="none" />
<path d="M516.4,507.6 L516.4,549.0" stroke="#1a1a1a" stroke-width="1.0" fill="none" />
<path d="M518.8,508.0 L518.8,549.0" stroke="#1a1a1a" stroke-width="1.0" fill="none" />
<path d="M458,549 L458,534 Q458,529 463,528 L507,518.6 Q512,517.6 512,522.5 L512,549" fill="none" stroke="#222" stroke-width="1.3"/>
<path d="M460.4,549 L460.4,535.4 Q460.4,531 464.6,530.2 L505.4,521.4 Q509.6,520.6 509.6,524.6 L509.6,549" fill="none" stroke="#222" stroke-width="0.8"/>
<path d="M460.4,537.2 L509.6,527.2" stroke="#1a1a1a" stroke-width="0.9" fill="none" />
<path d="M460.4,539.8 L509.6,529.8" stroke="#1a1a1a" stroke-width="0.9" fill="none" />
<path d="M435.0,457.8 L435.0,457.8" stroke="#1a1a1a" stroke-width="1.0" fill="none" />
<path d="M435.0,457.8 L435.0,523.4" stroke="#1a1a1a" stroke-width="1.0" fill="none" />
<path d="M435.0,457.8 L436.9,465.3 L433.1,465.3Z" fill="#1a1a1a"/>
<path d="M435.0,523.4 L433.1,515.9 L436.9,515.9Z" fill="#1a1a1a"/>
<text x="419.3" y="484.0" font-size="11.5" text-anchor="middle" fill="#1a1a1a" stroke="#1a1a1a" stroke-width="0.15">400</text>
<path d="M476.4,425.4 L476.4,515.2" stroke="#1a1a1a" stroke-width="1.0" fill="none" />
<path d="M476.4,425.4 L478.3,432.9 L474.5,432.9Z" fill="#1a1a1a"/>
<path d="M476.4,515.2 L474.5,507.7 L478.3,507.7Z" fill="#1a1a1a"/>
<text x="467.7" y="466.6" font-size="11.5" text-anchor="middle" fill="#1a1a1a" stroke="#1a1a1a" stroke-width="0.15">A</text>
<path d="M519.7,481.2 L553.1,474.7" stroke="#1a1a1a" stroke-width="1.0" fill="none" />
<path d="M519.7,481.2 L526.7,477.9 L527.4,481.6Z" fill="#1a1a1a"/>
<path d="M553.1,474.7 L546.1,478.0 L545.4,474.3Z" fill="#1a1a1a"/>
<text x="535.0" y="472.7" font-size="11.5" text-anchor="middle" fill="#1a1a1a" stroke="#1a1a1a" stroke-width="0.15">150</text>
<circle cx="390.3" cy="576.8" r="18.5" fill="#fff" stroke="#111" stroke-width="1.8"/>
<text x="414.0" y="580.5" font-size="11.4" text-anchor="start" fill="#1a1a1a" stroke="#1a1a1a" stroke-width="0.15" word-spacing="0.7">A - 685</text>
<circle cx="487.3" cy="576.8" r="18.5" fill="#fff" stroke="#111" stroke-width="1.8"/>
<text x="512.0" y="580.5" font-size="11.4" text-anchor="start" fill="#1a1a1a" stroke="#1a1a1a" stroke-width="0.15" word-spacing="0.7">A - 650</text>
<g transform="translate(390.1,577.4) scale(1.0)"><circle r="4.7" fill="none" stroke="#111" stroke-width="1.2"/><circle r="6.7" fill="none" stroke="#111" stroke-width="1.2"/><circle r="8.7" fill="none" stroke="#111" stroke-width="1.2"/><circle r="10.6" fill="none" stroke="#111" stroke-width="1.2"/><circle r="2.7" fill="none" stroke="#1a1a1a" stroke-width="1.1" stroke-dasharray="1.1 2.29" stroke-dashoffset="-1.1"/><line x1="0.00" y1="-3.80" x2="0.00" y2="-12.00" stroke="#fff" stroke-width="1.8"/><line x1="3.61" y1="-1.17" x2="11.41" y2="-3.71" stroke="#fff" stroke-width="1.8"/><line x1="2.23" y1="3.07" x2="7.05" y2="9.71" stroke="#fff" stroke-width="1.8"/><line x1="-2.23" y1="3.07" x2="-7.05" y2="9.71" stroke="#fff" stroke-width="1.8"/><line x1="-3.61" y1="-1.17" x2="-11.41" y2="-3.71" stroke="#fff" stroke-width="1.8"/></g>
<g transform="translate(487.2,577) scale(1.0)"><path d="M-14.50,5.37 L-14.20,5.67 L-13.89,5.92 L-13.57,6.14 L-13.24,6.32 L-12.90,6.45 L-12.56,6.54 L-12.22,6.59 L-11.88,6.60 L-11.53,6.56 L-11.19,6.47 L-10.86,6.35 L-10.53,6.18 L-10.21,5.97 L-9.89,5.72 L-9.59,5.43 L-9.31,5.11 L-9.03,4.75 L-8.78,4.36 L-8.54,3.94 L-8.32,3.49 L-8.11,3.03 L-7.93,2.54 L-7.77,2.03 L-7.63,1.51 L-7.52,0.98 L-7.43,0.45 L-7.35,-0.09 L-7.31,-0.63 L-7.28,-1.16 L-7.28,-1.69 L-7.30,-2.20 L-7.34,-2.70 L-7.41,-3.18 L-7.49,-3.64 L-7.59,-4.08 L-7.71,-4.49 L-7.85,-4.87 L-8.00,-5.22 L-8.17,-5.53 L-8.35,-5.80 L-8.54,-6.04 L-8.74,-6.24 L-8.95,-6.39 L-9.16,-6.51 L-9.38,-6.57 L-9.60,-6.60 L-9.82,-6.58 L-10.03,-6.52 L-10.25,-6.41 L-10.45,-6.26 L-10.66,-6.07 L-10.85,-5.84 L-11.03,-5.57 L-11.20,-5.27 L-11.35,-4.92 L-11.49,-4.55 L-11.62,-4.14 L-11.72,-3.71 L-11.81,-3.25 L-11.87,-2.78 L-11.92,-2.28 L-11.94,-1.77 L-11.94,-1.24 L-11.92,-0.71 L-11.88,-0.17 L-11.81,0.37 L-11.72,0.90 L-11.61,1.43 L-11.48,1.96 L-11.32,2.46 L-11.14,2.95 L-10.94,3.43 L-10.72,3.87 L-10.49,4.30 L-10.23,4.69 L-9.96,5.05 L-9.68,5.38 L-9.38,5.68 L-9.07,5.93 L-8.75,6.15 L-8.42,6.32 L-8.08,6.46 L-7.74,6.55 L-7.40,6.59 L-7.06,6.60 L-6.71,6.55 L-6.37,6.47 L-6.04,6.34 L-5.71,6.17 L-5.39,5.96 L-5.08,5.71 L-4.78,5.42 L-4.49,5.09 L-4.22,4.73 L-3.96,4.34 L-3.72,3.92 L-3.50,3.48 L-3.30,3.01 L-3.12,2.52 L-2.96,2.01 L-2.82,1.49 L-2.71,0.96 L-2.62,0.43 L-2.55,-0.11 L-2.50,-0.65 L-2.48,-1.18 L-2.48,-1.71 L-2.50,-2.22 L-2.54,-2.72 L-2.60,-3.20 L-2.69,-3.66 L-2.79,-4.10 L-2.91,-4.51 L-3.05,-4.88 L-3.20,-5.23 L-3.37,-5.54 L-3.55,-5.81 L-3.74,-6.05 L-3.94,-6.24 L-4.15,-6.40 L-4.36,-6.51 L-4.58,-6.58 L-4.80,-6.60 L-5.02,-6.58 L-5.23,-6.52 L-5.45,-6.41 L-5.66,-6.26 L-5.86,-6.07 L-6.05,-5.83 L-6.23,-5.56 L-6.40,-5.25 L-6.55,-4.91 L-6.69,-4.53 L-6.81,-4.13 L-6.92,-3.69 L-7.00,-3.24 L-7.07,-2.76 L-7.11,-2.26 L-7.14,-1.75 L-7.14,-1.22 L-7.12,-0.69 L-7.07,-0.15 L-7.00,0.39 L-6.91,0.92 L-6.80,1.45 L-6.66,1.97 L-6.51,2.48 L-6.33,2.97 L-6.13,3.44 L-5.91,3.89 L-5.67,4.31 L-5.42,4.71 L-5.15,5.07 L-4.86,5.40 L-4.56,5.69 L-4.25,5.94 L-3.93,6.16 L-3.60,6.33 L-3.27,6.46 L-2.92,6.55 L-2.58,6.59 L-2.24,6.59 L-1.89,6.55 L-1.55,6.47 L-1.22,6.34 L-0.89,6.16 L-0.57,5.95 L-0.26,5.70 L0.04,5.41 L0.33,5.08 L0.60,4.72 L0.86,4.33 L1.09,3.91 L1.31,3.46 L1.51,2.99 L1.69,2.50 L1.85,1.99 L1.99,1.47 L2.10,0.94 L2.19,0.41 L2.26,-0.13 L2.31,-0.67 L2.33,-1.20 L2.33,-1.73 L2.31,-2.24 L2.26,-2.74 L2.20,-3.22 L2.12,-3.68 L2.01,-4.11 L1.89,-4.52 L1.75,-4.90 L1.60,-5.24 L1.43,-5.55 L1.25,-5.82 L1.06,-6.06 L0.86,-6.25 L0.65,-6.40 L0.44,-6.51 L0.22,-6.58 L0.00,-6.60 L-0.22,-6.58 L-0.44,-6.51 L-0.65,-6.40 L-0.86,-6.25 L-1.06,-6.06 L-1.25,-5.82 L-1.43,-5.55 L-1.60,-5.24 L-1.75,-4.90 L-1.89,-4.52 L-2.01,-4.11 L-2.12,-3.68 L-2.20,-3.22 L-2.26,-2.74 L-2.31,-2.24 L-2.33,-1.73 L-2.33,-1.20 L-2.31,-0.67 L-2.26,-0.13 L-2.19,0.41 L-2.10,0.94 L-1.99,1.47 L-1.85,1.99 L-1.69,2.50 L-1.51,2.99 L-1.31,3.46 L-1.09,3.91 L-0.86,4.33 L-0.60,4.72 L-0.33,5.08 L-0.04,5.41 L0.26,5.70 L0.57,5.95 L0.89,6.16 L1.22,6.34 L1.55,6.47 L1.89,6.55 L2.24,6.59 L2.58,6.59 L2.92,6.55 L3.27,6.46 L3.60,6.33 L3.93,6.16 L4.25,5.94 L4.56,5.69 L4.86,5.40 L5.15,5.07 L5.42,4.71 L5.67,4.31 L5.91,3.89 L6.13,3.44 L6.33,2.97 L6.51,2.48 L6.66,1.97 L6.80,1.45 L6.91,0.92 L7.00,0.39 L7.07,-0.15 L7.12,-0.69 L7.14,-1.22 L7.14,-1.75 L7.11,-2.26 L7.07,-2.76 L7.00,-3.24 L6.92,-3.69 L6.81,-4.13 L6.69,-4.53 L6.55,-4.91 L6.40,-5.25 L6.23,-5.56 L6.05,-5.83 L5.86,-6.07 L5.66,-6.26 L5.45,-6.41 L5.23,-6.52 L5.02,-6.58 L4.80,-6.60 L4.58,-6.58 L4.36,-6.51 L4.15,-6.40 L3.94,-6.24 L3.74,-6.05 L3.55,-5.81 L3.37,-5.54 L3.20,-5.23 L3.05,-4.88 L2.91,-4.51 L2.79,-4.10 L2.69,-3.66 L2.60,-3.20 L2.54,-2.72 L2.50,-2.22 L2.48,-1.71 L2.48,-1.18 L2.50,-0.65 L2.55,-0.11 L2.62,0.43 L2.71,0.96 L2.82,1.49 L2.96,2.01 L3.12,2.52 L3.30,3.01 L3.50,3.48 L3.72,3.92 L3.96,4.34 L4.22,4.73 L4.49,5.09 L4.78,5.42 L5.08,5.71 L5.39,5.96 L5.71,6.17 L6.04,6.34 L6.37,6.47 L6.71,6.55 L7.06,6.60 L7.40,6.59 L7.74,6.55 L8.08,6.46 L8.42,6.32 L8.75,6.15 L9.07,5.93 L9.38,5.68 L9.68,5.38 L9.96,5.05 L10.23,4.69 L10.49,4.30 L10.72,3.87 L10.94,3.43 L11.14,2.95 L11.32,2.46 L11.48,1.96 L11.61,1.43 L11.72,0.90 L11.81,0.37 L11.88,-0.17 L11.92,-0.71 L11.94,-1.24 L11.94,-1.77 L11.92,-2.28 L11.87,-2.78 L11.81,-3.25 L11.72,-3.71 L11.62,-4.14 L11.49,-4.55 L11.35,-4.92 L11.20,-5.27 L11.03,-5.57 L10.85,-5.84 L10.66,-6.07 L10.45,-6.26 L10.25,-6.41 L10.03,-6.52 L9.82,-6.58 L9.60,-6.60 L9.38,-6.57 L9.16,-6.51 L8.95,-6.39 L8.74,-6.24 L8.54,-6.04 L8.35,-5.80 L8.17,-5.53 L8.00,-5.22 L7.85,-4.87 L7.71,-4.49 L7.59,-4.08 L7.49,-3.64 L7.41,-3.18 L7.34,-2.70 L7.30,-2.20 L7.28,-1.69 L7.28,-1.16 L7.31,-0.63 L7.35,-0.09 L7.43,0.45 L7.52,0.98 L7.63,1.51 L7.77,2.03 L7.93,2.54 L8.11,3.03 L8.32,3.49 L8.54,3.94 L8.78,4.36 L9.03,4.75 L9.31,5.11 L9.59,5.43 L9.89,5.72 L10.21,5.97 L10.53,6.18 L10.86,6.35 L11.19,6.47 L11.53,6.56 L11.88,6.60 L12.22,6.59 L12.56,6.54 L12.90,6.45 L13.24,6.32 L13.57,6.14 L13.89,5.92 L14.20,5.67 L14.50,5.37" fill="none" stroke="#111" stroke-width="1.15" stroke-linejoin="round" stroke-linecap="round"/></g>
</g>
</svg>
</body></html>
